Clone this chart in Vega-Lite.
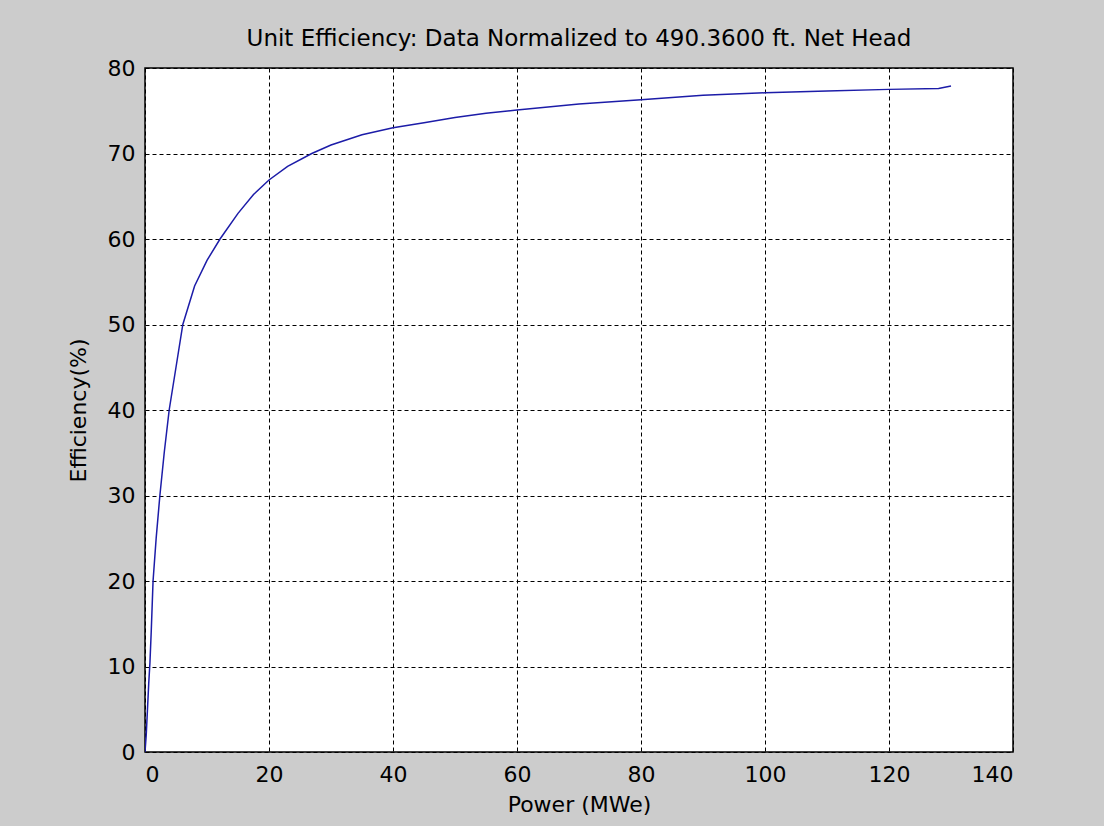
{
  "$schema": "https://vega.github.io/schema/vega-lite/v6.json",
  "autosize": {"type": "none"},
  "padding": {"left": 145, "top": 68, "right": 91, "bottom": 74},
  "width": 868,
  "height": 684,
  "background": "#cccccc",
  "config": {
    "view": {"fill": "#ffffff", "stroke": "#000000", "strokeWidth": 1.5},
    "font": "DejaVu Sans"
  },
  "title": {
    "text": "Unit Efficiency: Data Normalized to 490.3600 ft. Net Head",
    "fontSize": 23,
    "fontWeight": "normal",
    "color": "#000000",
    "offset": 6,
    "font": "DejaVu Sans"
  },
  "data": {
    "values": [
      {"power": 0.0, "eff": 0.0},
      {"power": 0.2, "eff": 2.0},
      {"power": 0.4, "eff": 5.0},
      {"power": 0.6, "eff": 8.0},
      {"power": 0.8, "eff": 10.5},
      {"power": 1.0, "eff": 14.0},
      {"power": 1.3, "eff": 20.0},
      {"power": 1.8, "eff": 25.0},
      {"power": 2.4, "eff": 30.0},
      {"power": 3.1, "eff": 35.0},
      {"power": 3.9, "eff": 40.0},
      {"power": 5.0, "eff": 45.0},
      {"power": 6.1, "eff": 50.0},
      {"power": 8.0, "eff": 54.5},
      {"power": 10.0, "eff": 57.5},
      {"power": 12.1, "eff": 60.0},
      {"power": 15.0, "eff": 63.0},
      {"power": 17.5, "eff": 65.2},
      {"power": 20.0, "eff": 66.9},
      {"power": 23.0, "eff": 68.5},
      {"power": 26.9, "eff": 70.0},
      {"power": 30.0, "eff": 71.0},
      {"power": 35.0, "eff": 72.2},
      {"power": 40.0, "eff": 73.0},
      {"power": 45.0, "eff": 73.6},
      {"power": 50.0, "eff": 74.2},
      {"power": 55.0, "eff": 74.7},
      {"power": 60.0, "eff": 75.1},
      {"power": 70.0, "eff": 75.8},
      {"power": 80.0, "eff": 76.3},
      {"power": 90.0, "eff": 76.8},
      {"power": 100.0, "eff": 77.1},
      {"power": 110.0, "eff": 77.3},
      {"power": 120.0, "eff": 77.5},
      {"power": 128.0, "eff": 77.6},
      {"power": 130.0, "eff": 77.9}
    ]
  },
  "mark": {"type": "line", "color": "#1c1ca8", "strokeWidth": 1.5, "clip": true},
  "encoding": {
    "x": {
      "field": "power",
      "type": "quantitative",
      "scale": {"domain": [0, 140], "nice": false, "zero": false},
      "axis": {
        "title": "Power (MWe)",
        "values": [0, 20, 40, 60, 80, 100, 120, 140],
        "domain": false,
        "ticks": false,
        "labelPadding": 12,
        "labelFontSize": 22,
        "labelColor": "#000000",
        "titleFontSize": 22,
        "titleFontWeight": "normal",
        "titleColor": "#000000",
        "titlePadding": 9,
        "grid": true,
        "gridColor": "#000000",
        "gridOpacity": 1,
        "gridDash": [4, 3],
        "gridWidth": 1
      }
    },
    "y": {
      "field": "eff",
      "type": "quantitative",
      "scale": {"domain": [0, 80], "nice": false, "zero": false},
      "axis": {
        "title": "Efficiency(%)",
        "values": [0, 10, 20, 30, 40, 50, 60, 70, 80],
        "domain": false,
        "ticks": false,
        "labelPadding": 10,
        "labelFontSize": 22,
        "labelColor": "#000000",
        "titleFontSize": 22,
        "titleFontWeight": "normal",
        "titleColor": "#000000",
        "titlePadding": 17,
        "grid": true,
        "gridColor": "#000000",
        "gridOpacity": 1,
        "gridDash": [4, 3],
        "gridWidth": 1
      }
    }
  }
}
